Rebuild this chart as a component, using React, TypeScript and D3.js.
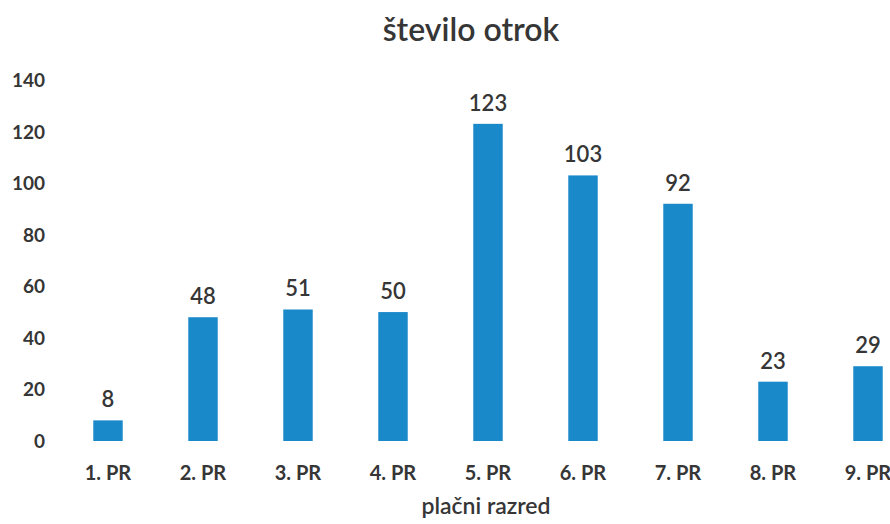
import React from "react";
import * as d3 from "d3";

const categories = ["1. PR", "2. PR", "3. PR", "4. PR", "5. PR", "6. PR", "7. PR", "8. PR", "9. PR"];
const values = [8, 48, 51, 50, 123, 103, 92, 23, 29];
const yTicks = [0, 20, 40, 60, 80, 100, 120, 140];
const title = "število otrok";
const xTitle = "plačni razred";

const W = 890;
const H = 524;
const font = "Lato, 'Open Sans', sans-serif";
const textColor = "#363636";
const barColor = "#1a89ca";

export default function App() {
  const x = d3.scaleBand<string>().domain(categories).range([60.5, 915.5]).paddingInner(0.69).paddingOuter(0.345);
  const y = d3.scaleLinear().domain([0, 140]).range([441, 80]);

  return (
    <svg width={W} height={H} style={{ position: "absolute", left: 0, top: 0, background: "#fff" }}>
      <text x={471} y={41} textAnchor="middle" fontFamily={font} fontSize={32} fontWeight={600} fill={textColor}>
        {title}
      </text>
      {yTicks.map((t) => (
        <text key={t} x={45} y={y(t) + 7} textAnchor="end" fontFamily={font} fontSize={19} fontWeight={700} fill={textColor}>
          {t}
        </text>
      ))}
      {categories.map((c, i) => {
        const bx = x(c) as number;
        const bw = x.bandwidth();
        const cx = bx + bw / 2;
        return (
          <g key={c}>
            <rect x={bx} y={y(values[i])} width={bw} height={y(0) - y(values[i])} fill={barColor} />
            <text x={cx} y={y(values[i]) - 13} textAnchor="middle" fontFamily={font} fontSize={22} fontWeight={600} fill={textColor}>
              {values[i]}
            </text>
            <text x={cx} y={480} textAnchor="middle" fontFamily={font} fontSize={20} fontWeight={700} fill={textColor}>
              {c}
            </text>
          </g>
        );
      })}
      <text x={486} y={514} textAnchor="middle" fontFamily={font} fontSize={23} fontWeight={600} fill={textColor}>
        {xTitle}
      </text>
    </svg>
  );
}
